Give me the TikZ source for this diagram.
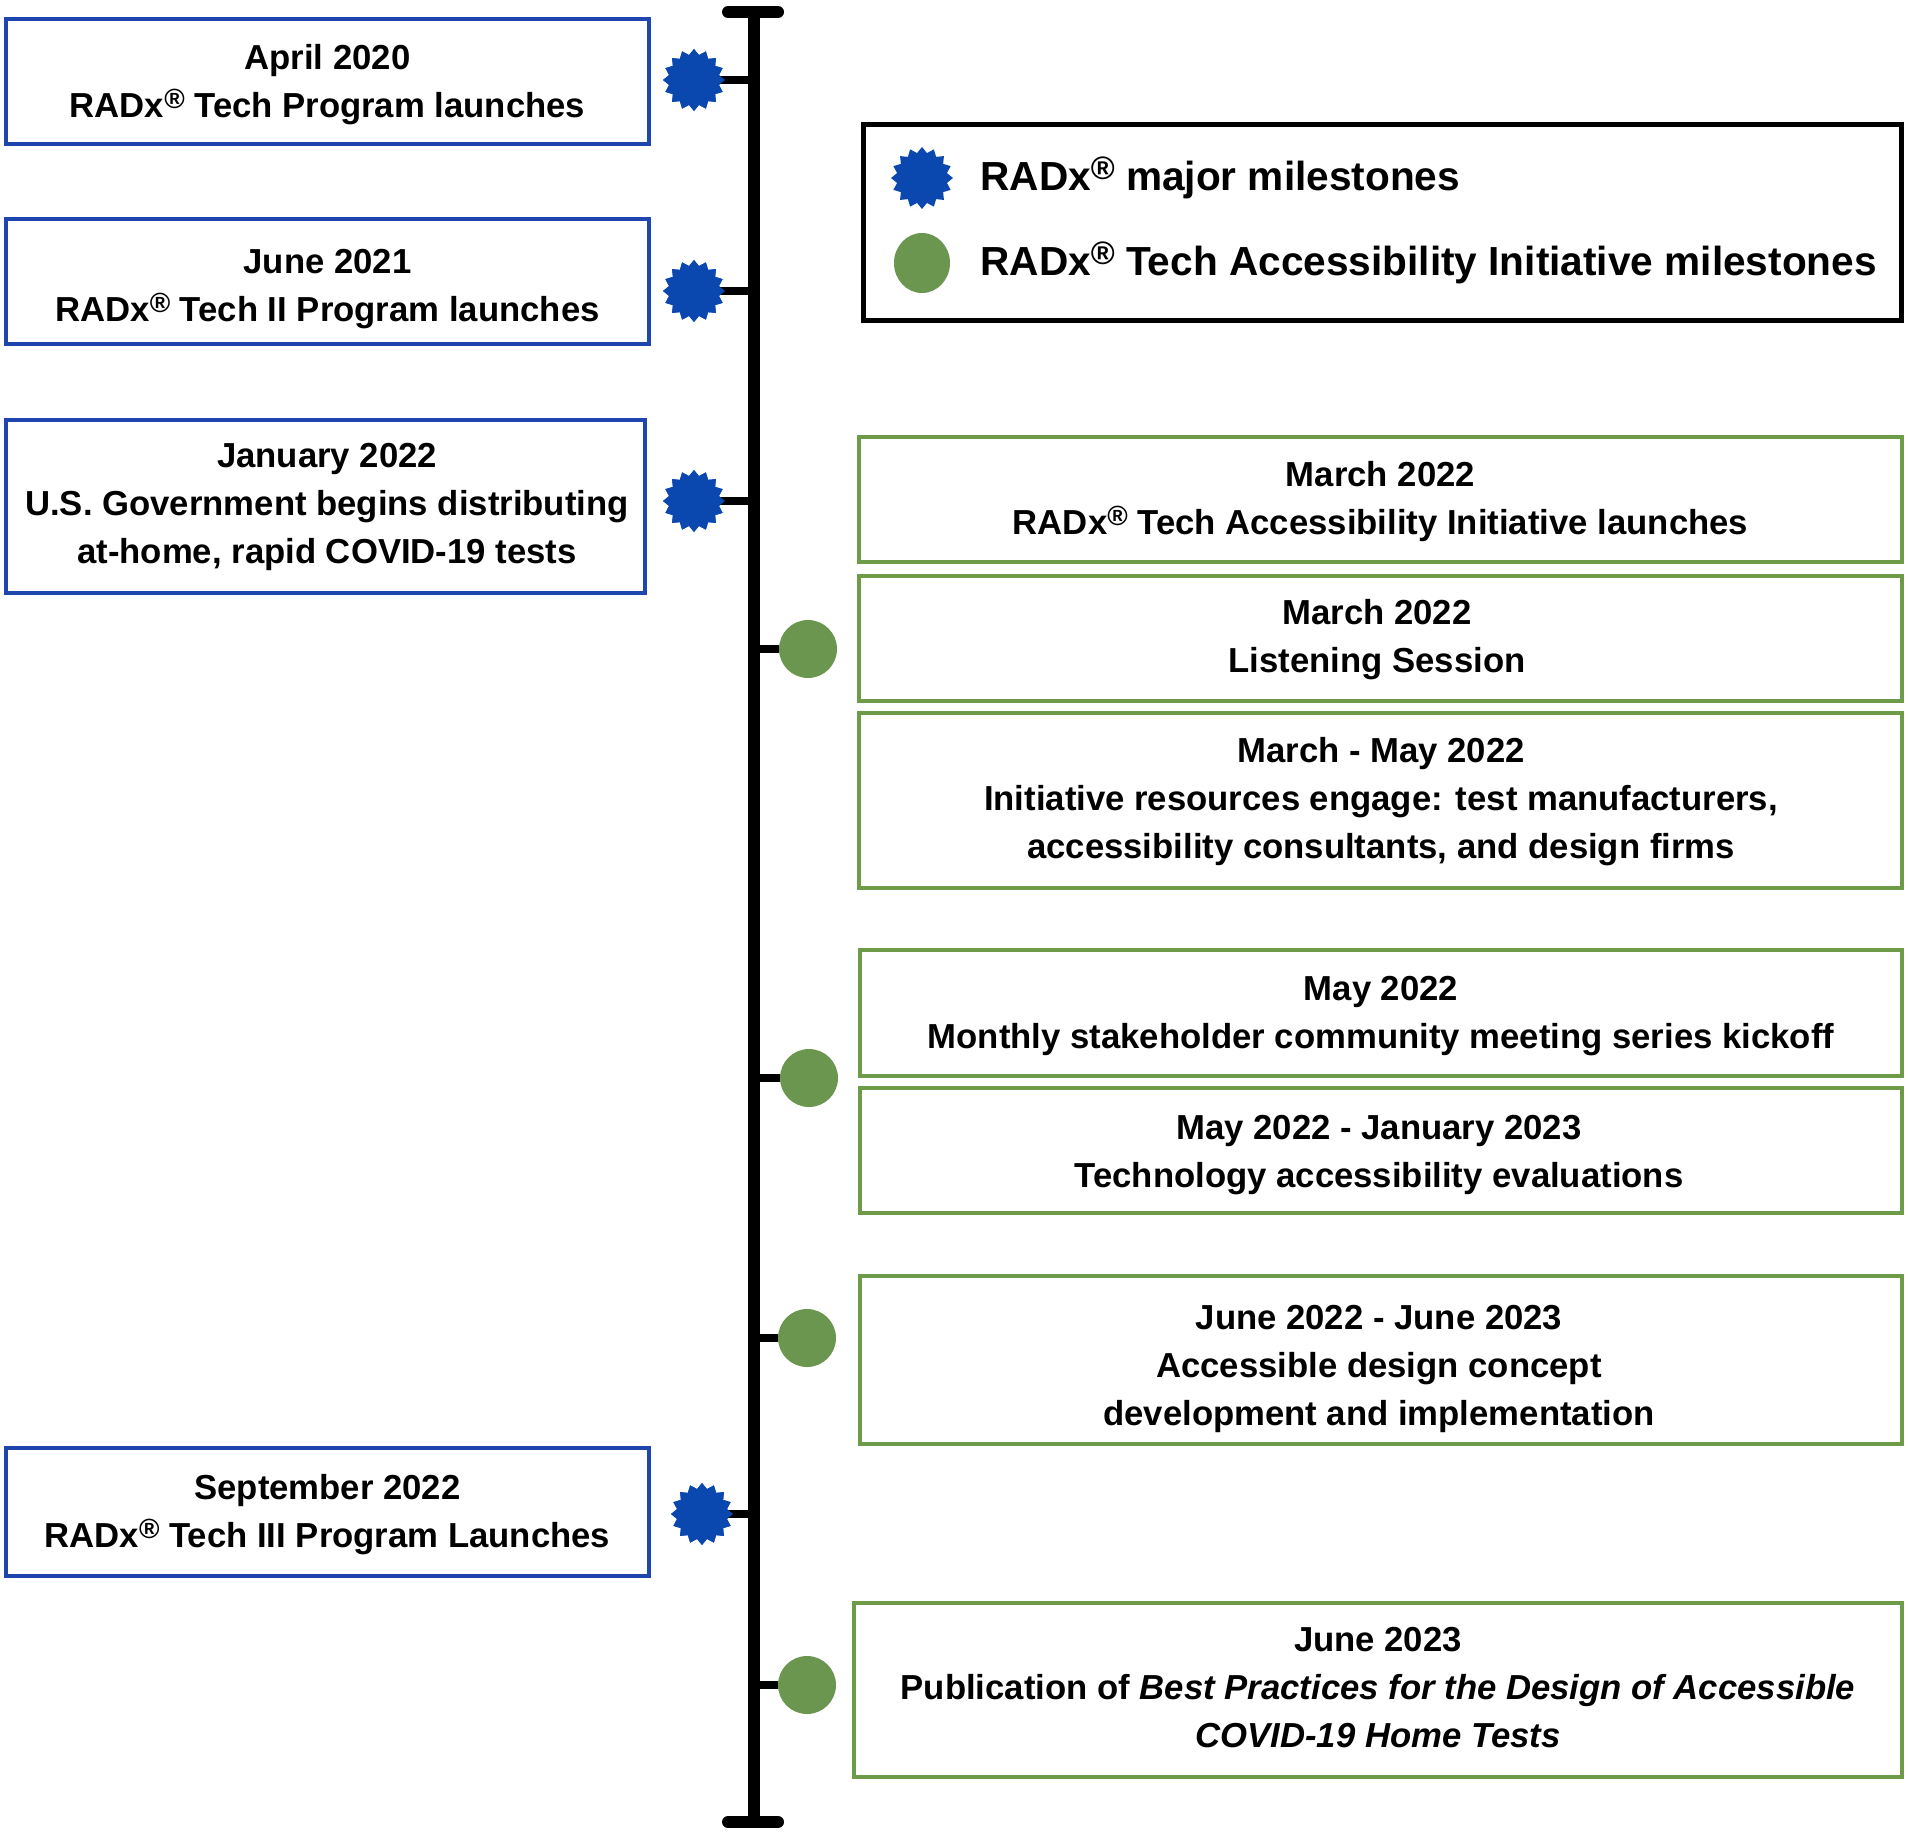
\documentclass[tikz,border=0pt]{standalone}
\usepackage{fontspec}
\setmainfont{Liberation Sans}
\usetikzlibrary{shapes.geometric}
\definecolor{starblue}{HTML}{0A47AF}
\definecolor{boxblue}{HTML}{1F45AE}
\definecolor{dotgreen}{HTML}{6A9650}
\definecolor{boxgreen}{HTML}{6E9B48}
\newcommand\regm{\raisebox{0.5ex}{\scalebox{0.8}{®}}}
\tikzset{
  bluebox/.style={draw=boxblue, line width=2pt, rectangle, inner sep=0pt},
  greenbox/.style={draw=boxgreen, line width=2pt, rectangle, inner sep=0pt},
  boxtext/.style={inner sep=0pt, align=center, font=\fontsize{17.35}{24}\selectfont\bfseries},
  mstar/.style={star, star points=16, star point ratio=1.22, fill=starblue, draw=none,
    minimum size=31pt, inner sep=0pt},
  mdot/.style={circle, fill=dotgreen, draw=none, minimum size=29pt, inner sep=0pt},
  tick/.style={line width=4pt, black},
  axis/.style={line width=6pt, black},
  capline/.style={line width=6pt, black, line cap=round},
  legtext/.style={anchor=west, inner sep=0pt, font=\fontsize{20.3}{24}\selectfont\bfseries}
}
\begin{document}
\begin{tikzpicture}[x=0.5pt, y=-0.5pt]
\useasboundingbox (0,0) rectangle (1908,1832);
% timeline
\coordinate (top) at (754,12);
\coordinate (bot) at (754,1822);
\coordinate (topl) at (728,12);
\coordinate (topr) at (778,12);
\coordinate (botl) at (728,1822);
\coordinate (botr) at (778,1822);
\draw[axis] (top) -- (bot);
\draw[capline] (topl) -- (topr);
\draw[capline] (botl) -- (botr);

% blue boxes
\node[bluebox, minimum width=321.5pt, minimum height=62.5pt] (b1) at (327.5,81.5) {};
\node[boxtext] (b1t) at (327.5,85) {April 2020\\RADx\regm{} Tech Program launches};
\node[bluebox, minimum width=321.5pt, minimum height=62.5pt] (b2) at (327.5,281.5) {};
\node[boxtext] (b2t) at (327.5,289) {June 2021\\RADx\regm{} Tech II Program launches};
\node[bluebox, minimum width=319.5pt, minimum height=86.5pt] (b3) at (325.5,506.5) {};
\node[boxtext] (b3t) at (327,507) {January 2022\\U.S. Government begins distributing\\at-home, rapid COVID-19 tests};
\node[bluebox, minimum width=321.5pt, minimum height=64pt] (b4) at (327.5,1512) {};
\node[boxtext] (b4t) at (327.5,1514.5) {September 2022\\RADx\regm{} Tech III Program Launches};

% stars and ticks
\node[mstar] (s1) at (694,80) {};
\node[mstar] (s2) at (694,291) {};
\node[mstar] (s3) at (694,501) {};
\node[mstar] (s4) at (702,1514) {};
\draw[tick] (s1.center) -- (s1 -| top);
\draw[tick] (s2.center) -- (s2 -| top);
\draw[tick] (s3.center) -- (s3 -| top);
\draw[tick] (s4.center) -- (s4 -| top);
\node[mstar] at (s1) {};
\node[mstar] at (s2) {};
\node[mstar] at (s3) {};
\node[mstar] at (s4) {};

% green dots and ticks
\node[mdot] (c1) at (808,649) {};
\node[mdot] (c2) at (809,1078) {};
\node[mdot] (c3) at (807,1338) {};
\node[mdot] (c4) at (807,1685) {};
\draw[tick] (c1 -| top) -- (c1);
\draw[tick] (c2 -| top) -- (c2);
\draw[tick] (c3 -| top) -- (c3);
\draw[tick] (c4 -| top) -- (c4);

% legend
\node[draw=black, line width=2.5pt, rectangle, minimum width=519pt, minimum height=98pt] (leg) at (1382,222) {};
\node[mstar] (ls) at (922,178) {};
\node[mdot, minimum width=28pt, minimum height=30pt, ellipse] (lc) at (922,263) {};
\node[legtext] (lt1) at (980,178) {RADx\regm{} major milestones};
\node[legtext] (lt2) at (980,263) {RADx\regm{} Tech Accessibility Initiative milestones};

% green boxes
\node[greenbox, minimum width=521.5pt, minimum height=62.5pt] (g1) at (1380.5,499.5) {};
\node[boxtext] (g1t) at (1380.5,502) {March 2022\\RADx\regm{} Tech Accessibility Initiative launches};
\node[greenbox, minimum width=521.5pt, minimum height=62.5pt] (g2) at (1380.5,638.5) {};
\node[boxtext] (g2t) at (1377,640) {March 2022\\Listening Session};
\node[greenbox, minimum width=521.5pt, minimum height=87.5pt] (g3) at (1380.5,800.5) {};
\node[boxtext] (g3t) at (1381,802) {March - May 2022\\Initiative resources engage: test manufacturers,\\accessibility consultants, and design firms};
\node[greenbox, minimum width=521pt, minimum height=63pt] (g4) at (1381,1013) {};
\node[boxtext] (g4t) at (1381,1016.5) {May 2022\\Monthly stakeholder community meeting series kickoff};
\node[greenbox, minimum width=521pt, minimum height=62.5pt] (g5) at (1381,1150.5) {};
\node[boxtext] (g5t) at (1379,1155) {May 2022 - January 2023\\Technology accessibility evaluations};
\node[greenbox, minimum width=521pt, minimum height=84pt] (g6) at (1381,1360) {};
\node[boxtext] (g6t) at (1379,1368.5) {June 2022 - June 2023\\Accessible design concept\\development and implementation};
\node[greenbox, minimum width=524pt, minimum height=87pt] (g7) at (1378,1690) {};
\node[boxtext] (g7t) at (1378,1688) {June 2023\\Publication of \textit{Best Practices for the Design of Accessible}\\\textit{COVID-19 Home Tests}};
\end{tikzpicture}
\end{document}
